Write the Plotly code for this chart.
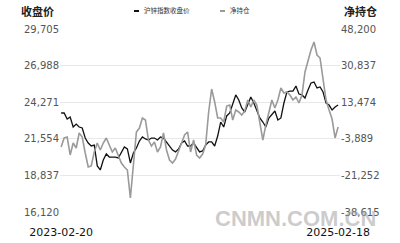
import plotly.graph_objects as go
import pandas as pd

start_date = "2023-02-20"
end_date = "2025-02-18"

price = [23470, 23470, 23020, 23170, 22430, 22650, 22430, 22360, 21610, 21240,
         21020, 21090, 19540, 19240, 19980, 20430, 20200, 20200, 20200, 20130,
         20580, 20950, 20800, 19760, 20500, 20870, 21390, 21690, 21540, 21470,
         21610, 21610, 21470, 21690, 21610, 21320, 20950, 20720, 20580, 20800,
         21240, 21390, 21020, 21020, 21240, 20870, 20580, 20650, 21090, 21320,
         21320, 21020, 21760, 22800, 22430, 23250, 23470, 24140, 24810, 24440,
         23840, 23540, 24140, 24660, 24210, 23690, 23100, 22800, 22430, 23100,
         23400, 23620, 22950, 23100, 24210, 25030, 25100, 25100, 25470, 24880,
         24810, 24580, 25180, 25700, 25770, 25330, 25400, 25030, 24210, 24060,
         23690, 23920, 24060]

net_position = [-7780, -3510, -3040, -11570, -5880, -8250, -1140, -3040, -10630, -17270,
                -16790, -10150, -5880, -9200, -5880, -3510, -6830, -10150, -8250, -11570,
                -15370, -17270, -18690, -31970, -14900, -660, 1230, 5980, 5030, -4460,
                -7310, -5410, -10150, -7780, -1140, -9200, -13950, -15370, -13470, -9200,
                -5880, -2090, -660, -10150, -4460, -11570, -13000, -11100, -6830, 8830,
                19740, 13570, 5980, 5980, 4080, 11670, 12150, 5030, 9770, 8830,
                7400, 9300, 14520, 11200, 14520, 12150, 4080, -4460, 2660, 8830,
                14520, 10720, 14520, 20210, 17840, 18310, 16890, 14520, 15940, 13090,
                16890, 27800, 33490, 38240, 42030, 35870, 34440, 25430, 14520, 9770,
                5500, -3500, 1710]

left_ticks = [16120, 18837, 21554, 24271, 26988, 29705]
right_ticks = [-38615, -21252, -3889, 13474, 30837, 48200]

price_name = "沪锌指数收盘价"
net_name = "净持仓"

dates = pd.date_range(start_date, end_date, periods=len(price))

fig = go.Figure()
fig.add_trace(go.Scatter(x=dates, y=price, name=price_name, mode="lines",
                         line=dict(color="#111111", width=1.3)))
fig.add_trace(go.Scatter(x=dates, y=net_position, name=net_name, mode="lines",
                         line=dict(color="#9a9a9a", width=1.6), yaxis="y2"))

font = "DejaVu Sans, Noto Sans CJK SC, sans-serif"
W, H = 400, 243
L, R, T, B = 60, 60, 29, 31
pw, ph = W - L - R, H - T - B


def px_x(px):
    return (px - L) / pw


def px_y(py):
    return (H - B - py) / ph


fig.update_layout(
    width=W, height=H,
    margin=dict(l=L, r=R, t=T, b=B, autoexpand=False),
    paper_bgcolor="white", plot_bgcolor="white",
    font=dict(family=font, size=10, color="#555555"),
    showlegend=False,
    xaxis=dict(showgrid=False, zeroline=False, showline=False,
               tickmode="array",
               tickvals=[dates[0], dates[-1]],
               ticktext=[start_date, end_date],
               ticks="outside", ticklen=10, tickcolor="rgba(0,0,0,0)",
               tickfont=dict(size=11, color="#111111"),
               range=[dates[0] - pd.Timedelta(days=3), dates[-1] + pd.Timedelta(days=5)]),
    yaxis=dict(range=[left_ticks[0], left_ticks[-1]], tickmode="array",
               tickvals=left_ticks, ticktext=[f"{v:,}" for v in left_ticks],
               showgrid=True, gridcolor="#e8e8e8", gridwidth=1,
               zeroline=False, showline=False),
    yaxis2=dict(range=[right_ticks[0], right_ticks[-1]], tickmode="array",
                tickvals=right_ticks, ticktext=[f"{v:,}" for v in right_ticks],
                overlaying="y", side="right", showgrid=False,
                zeroline=False, showline=False),
    shapes=[
        dict(type="line", xref="paper", yref="paper", x0=px_x(134), x1=px_x(139),
             y0=px_y(11), y1=px_y(11), line=dict(color="#111111", width=2)),
        dict(type="line", xref="paper", yref="paper", x0=px_x(220), x1=px_x(225),
             y0=px_y(11), y1=px_y(11), line=dict(color="#9a9a9a", width=2)),
    ],
    annotations=[
        dict(text=price_name, xref="paper", yref="paper", x=px_x(142), y=px_y(11),
             xanchor="left", yanchor="middle", showarrow=False,
             font=dict(size=6.5, color="#333333")),
        dict(text=net_name, xref="paper", yref="paper", x=px_x(228), y=px_y(11),
             xanchor="left", yanchor="middle", showarrow=False,
             font=dict(size=6.5, color="#333333")),
        dict(text="<b>收盘价</b>", xref="paper", yref="paper", x=px_x(56), y=px_y(12),
             xanchor="right", yanchor="middle", showarrow=False,
             font=dict(size=11, color="#222222")),
        dict(text="<b>净持仓</b>", xref="paper", yref="paper", x=px_x(342), y=px_y(12),
             xanchor="left", yanchor="middle", showarrow=False,
             font=dict(size=11, color="#222222")),
        dict(text="<b>CNMN.COM.CN</b>", xref="paper", yref="paper", x=px_x(378), y=px_y(218),
             xanchor="right", yanchor="middle", showarrow=False,
             font=dict(size=22, color="rgba(160,160,160,0.55)", family="Liberation Sans, Arial, sans-serif")),
    ],
)

fig.write_html("out.html", config={"displayModeBar": False},
               post_script="document.body.style.margin='0';")
